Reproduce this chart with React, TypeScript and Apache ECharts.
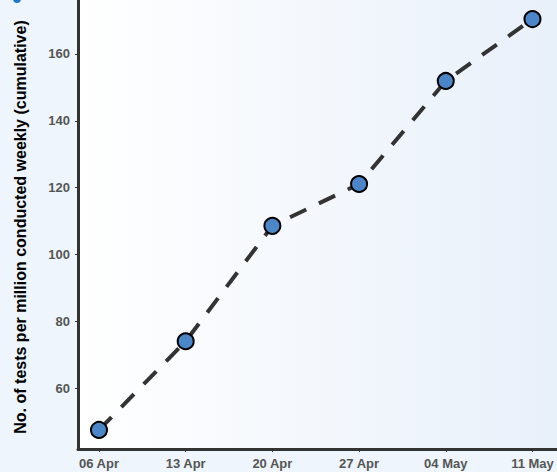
import React, { useEffect, useRef } from "react";
import * as echarts from "echarts";

const categories: string[] = ["06 Apr", "13 Apr", "20 Apr", "27 Apr", "04 May", "11 May"];
const testsPerMillion: number[] = [47.6, 74.1, 108.6, 121.1, 151.9, 170.4];
const yTitle = "No. of tests per million conducted weekly (cumulative)";

const FONT = '"Liberation Sans", Arial, Helvetica, sans-serif';

export default function App() {
  const ref = useRef<HTMLDivElement>(null);
  useEffect(() => {
    document.body.style.margin = "0";
    if (!ref.current) return;
    const chart = echarts.init(ref.current, undefined, { renderer: "svg" });
    const data = testsPerMillion.map((v, i) => [i, v]);
    chart.setOption({
      animation: false,
      backgroundColor: "#eef5fc",
      grid: {
        left: 78,
        right: 0,
        top: 0,
        bottom: 23,
        show: true,
        borderWidth: 0,
        backgroundColor: new echarts.graphic.LinearGradient(0, 0, 1, 0, [
          { offset: 0, color: "#ffffff" },
          { offset: 1, color: "#e8f0fa" },
        ]),
      },
      xAxis: {
        type: "value",
        min: -0.242,
        max: 5.283,
        splitNumber: 5,
        splitLine: { show: false },
        axisLine: { show: true, onZero: false, lineStyle: { color: "#333333", width: 3 } },
        axisTick: { show: true, length: 3, lineStyle: { color: "#333333", width: 1 } },
        axisLabel: {
          showMinLabel: false,
          showMaxLabel: false,
          margin: 8,
          color: "#555555",
          fontWeight: "bold",
          fontSize: 13,
          fontFamily: FONT,
          formatter: (v: number) => {
            const i = Math.round(v);
            return Math.abs(v - i) < 1e-6 && categories[i] ? categories[i] : "";
          },
        },
      },
      yAxis: {
        type: "value",
        min: 41.9,
        max: 176.1,
        splitNumber: 7,
        splitLine: { show: false },
        axisLine: { show: true, onZero: false, lineStyle: { color: "#333333", width: 3 } },
        axisTick: { show: true, length: 3, lineStyle: { color: "#333333", width: 1 } },
        axisLabel: {
          showMinLabel: false,
          showMaxLabel: false,
          margin: 8,
          color: "#555555",
          fontWeight: "bold",
          fontSize: 13,
          fontFamily: FONT,
        },
      },
      graphic: [
        {
          type: "text",
          x: 20,
          y: 227,
          rotation: Math.PI / 2,
          style: {
            text: yTitle,
            fill: "#000000",
            font: `bold 16px ${FONT}`,
            textAlign: "center",
            textVerticalAlign: "middle",
          },
        },
        {
          type: "circle",
          shape: { cx: 17, cy: -1, r: 4 },
          style: { fill: "#1f78d1" },
        },
      ],
      series: [
        {
          type: "line",
          data,
          symbol: "circle",
          symbolSize: 16,
          lineStyle: { color: "#333333", width: 4, type: [18, 14], cap: "butt" },
          itemStyle: { color: "#4a86c8", borderColor: "#000000", borderWidth: 2 },
          z: 3,
        },
      ],
    });
    return () => chart.dispose();
  }, []);
  return <div ref={ref} style={{ width: 557, height: 472 }} />;
}
